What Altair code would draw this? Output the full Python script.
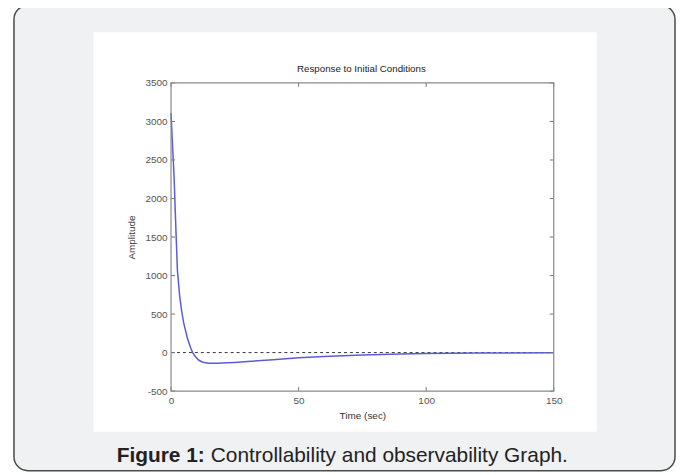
import altair as alt
import pandas as pd

# ---- data ----
time_sec = [0, 0.5, 1.2, 1.8, 2.5, 3.4, 4.2, 5, 6.4, 7.7, 8.5, 9.5, 10.9, 12.5, 14.8,
            18, 22, 25, 30, 40, 50, 60, 75, 90, 100, 120, 150]
amplitude = [3110, 2750, 2280, 1700, 1070, 730, 530, 380, 190, 60, 0, -50, -100, -125, -138,
             -138, -133, -128, -117, -92, -68, -50, -30, -18, -12, -6, -2]
x_ticks = [0, 50, 100, 150]
y_ticks = [-500, 0, 500, 1000, 1500, 2000, 2500, 3000, 3500]
zero_level = [0]

title_text = "Response to Initial Conditions"
x_title = "Time (sec)"
y_title = "Amplitude"
caption_bold = "Figure 1:"
caption_rest = "Controllability and observability Graph."

W, H = 385, 310
FONT = "Liberation Sans"

df = pd.DataFrame({"t": time_sec, "a": amplitude})
xt = pd.DataFrame({"t": x_ticks})
yt = pd.DataFrame({"a": y_ticks})
zl = pd.DataFrame({"a": zero_level})

xscale = alt.Scale(domain=[0, 150], nice=False, zero=False)
yscale = alt.Scale(domain=[-500, 3500], nice=False, zero=False)

x_axis = alt.Axis(values=x_ticks, tickSize=0, domain=False, grid=False,
                  labelFontSize=10, labelColor="#555", labelFont=FONT, labelPadding=4,
                  labelExpr="datum.value + ''",
                  titleFontSize=10, titleColor="#333", titleFont=FONT, titleFontWeight="normal",
                  titlePadding=6, zindex=1, labelFlush=False)
y_axis = alt.Axis(values=y_ticks, tickSize=0, domain=False, grid=False,
                  labelFontSize=10, labelColor="#555", labelFont=FONT, labelPadding=4,
                  labelExpr="datum.value + ''",
                  titleFontSize=10, titleColor="#333", titleFont=FONT, titleFontWeight="normal",
                  titlePadding=8, zindex=1, labelFlush=False)

one = pd.DataFrame({"k": [0]})

# decorations (page frame, white figure area, caption, plot title)
outer = alt.Chart(one).mark_rect(
    fill="#f0f1f3", stroke="#4a4a4a", strokeWidth=1.5, cornerRadius=14
).encode(x=alt.value(-158), x2=alt.value(507), y=alt.value(-78), y2=alt.value(390))

inner = alt.Chart(one).mark_rect(fill="white").encode(
    x=alt.value(-78), x2=alt.value(428), y=alt.value(-51), y2=alt.value(351))

cap1 = alt.Chart(one).mark_text(
    text=caption_bold, font=FONT, fontSize=21, fontWeight="bold", color="#222",
    align="right", baseline="alphabetic"
).encode(x=alt.value(34), y=alt.value(381))
cap2 = alt.Chart(one).mark_text(
    text=caption_rest, font=FONT, fontSize=21, color="#222",
    align="left", baseline="alphabetic"
).encode(x=alt.value(40), y=alt.value(381))

ttl = alt.Chart(one).mark_text(
    text=title_text, font=FONT, fontSize=9.8, color="#222", align="center", baseline="middle"
).encode(x=alt.value(W / 2 - 1), y=alt.value(-14))

zero_line = alt.Chart(zl).mark_rule(color="#333", strokeDash=[3, 3], strokeWidth=1).encode(
    y=alt.Y("a:Q", scale=yscale, title=y_title, axis=y_axis), x=alt.value(0), x2=alt.value(W))

curve = alt.Chart(df).mark_line(color="#5c5cd6", strokeWidth=1.5).encode(
    x=alt.X("t:Q", scale=xscale, title=x_title, axis=x_axis),
    y=alt.Y("a:Q", scale=yscale, title=y_title, axis=y_axis),
)

tick_col = "#777"
bt = alt.Chart(xt).mark_rule(color=tick_col).encode(
    x=alt.X("t:Q", scale=xscale, title=x_title, axis=x_axis), y=alt.value(H), y2=alt.value(H - 4))
tt = alt.Chart(xt).mark_rule(color=tick_col).encode(
    x=alt.X("t:Q", scale=xscale, title=x_title, axis=x_axis), y=alt.value(0), y2=alt.value(4))
lt = alt.Chart(yt).mark_rule(color=tick_col).encode(
    y=alt.Y("a:Q", scale=yscale, title=y_title, axis=y_axis), x=alt.value(0), x2=alt.value(4))
rt = alt.Chart(yt).mark_rule(color=tick_col).encode(
    y=alt.Y("a:Q", scale=yscale, title=y_title, axis=y_axis), x=alt.value(W), x2=alt.value(W - 4))

frame = alt.Chart(one).mark_rect(
    fill=None, stroke="#8a8a8a", strokeWidth=1.2
).encode(x=alt.value(0), x2=alt.value(W), y=alt.value(0), y2=alt.value(H))

chart = alt.layer(outer, inner, cap1, cap2, ttl, zero_line, curve, bt, tt, lt, rt, frame).properties(
    width=W, height=H,
    autosize=alt.AutoSizeParams(type="none"),
    padding={"left": 164, "top": 74, "right": 124, "bottom": 83},
).configure_view(stroke=None)

chart.save("out.html", embed_options={"renderer": "svg", "actions": False})
